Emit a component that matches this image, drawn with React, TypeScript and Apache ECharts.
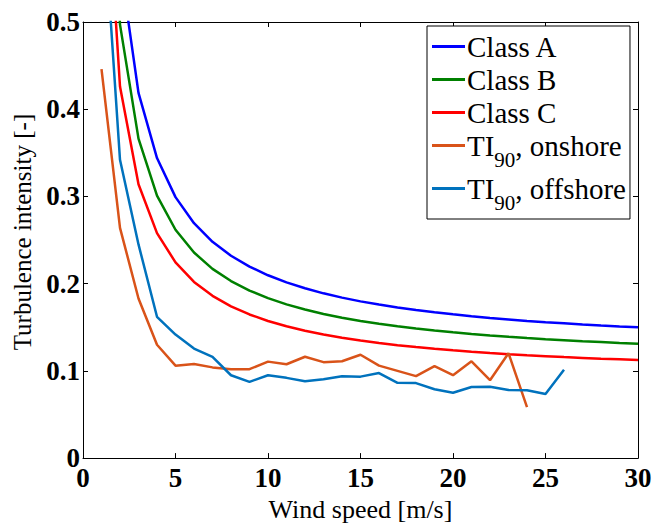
import React, { useEffect, useRef } from "react";
import * as echarts from "echarts";

const windSpeed = [1, 2, 3, 4, 5, 6, 7, 8, 9, 10, 11, 12, 13, 14, 15, 16, 17, 18, 19, 20, 21, 22, 23, 24, 25, 26, 27, 28, 29, 30];
const classA = [1.016, 0.568, 0.4187, 0.344, 0.2992, 0.2693, 0.248, 0.232, 0.2196, 0.2096, 0.2015, 0.1947, 0.1889, 0.184, 0.1797, 0.176, 0.1727, 0.1698, 0.1672, 0.1648, 0.1627, 0.1607, 0.159, 0.1573, 0.1558, 0.1545, 0.1532, 0.152, 0.1509, 0.1499];
const classB = [0.889, 0.497, 0.3663, 0.301, 0.2618, 0.2357, 0.217, 0.203, 0.1921, 0.1834, 0.1763, 0.1703, 0.1653, 0.161, 0.1573, 0.154, 0.1511, 0.1486, 0.1463, 0.1442, 0.1423, 0.1406, 0.1391, 0.1377, 0.1364, 0.1352, 0.134, 0.133, 0.132, 0.1311];
const classC = [0.762, 0.426, 0.314, 0.258, 0.2244, 0.202, 0.186, 0.174, 0.1647, 0.1572, 0.1511, 0.146, 0.1417, 0.138, 0.1348, 0.132, 0.1295, 0.1273, 0.1254, 0.1236, 0.122, 0.1205, 0.1192, 0.118, 0.1169, 0.1158, 0.1149, 0.114, 0.1132, 0.1124];
const onshoreSpeed = [1, 2, 3, 4, 5, 6, 7, 8, 9, 10, 11, 12, 13, 14, 15, 16, 17, 18, 19, 20, 21, 22, 23, 24];
const onshoreTI = [0.446, 0.264, 0.183, 0.13, 0.106, 0.108, 0.104, 0.102, 0.102, 0.1106, 0.1076, 0.1162, 0.11, 0.111, 0.1185, 0.106, 0.1, 0.094, 0.1054, 0.095, 0.111, 0.0893, 0.1203, 0.0585];
const offshoreSpeed = [1, 2, 3, 4, 5, 6, 7, 8, 9, 10, 11, 12, 13, 14, 15, 16, 17, 18, 19, 20, 21, 22, 23, 24, 25, 26];
const offshoreTI = [0.66, 0.342, 0.245, 0.162, 0.1416, 0.1256, 0.116, 0.095, 0.0874, 0.095, 0.092, 0.0882, 0.0905, 0.0938, 0.0934, 0.0975, 0.0863, 0.086, 0.079, 0.075, 0.0815, 0.0818, 0.078, 0.0777, 0.0736, 0.1013];

const seriesNames = ["Class A", "Class B", "Class C", "TI90, onshore", "TI90, offshore"];
const seriesColors = ["#0000FF", "#008000", "#FF0000", "#D95319", "#0072BD"];

const FONT = "'Liberation Serif', 'Times New Roman', serif";

function pairs(xs: number[], ys: number[]) {
  return xs.map((x, i) => [x, ys[i]]);
}

export default function App() {
  const ref = useRef<HTMLDivElement>(null);
  useEffect(() => {
    if (!ref.current) return;
    const chart = echarts.init(ref.current, null, { renderer: "svg" });
    const datasets = [
      pairs(windSpeed, classA),
      pairs(windSpeed, classB),
      pairs(windSpeed, classC),
      pairs(onshoreSpeed, onshoreTI),
      pairs(offshoreSpeed, offshoreTI),
    ];
    const axisCommon = {
      axisLine: { show: true, onZero: false, lineStyle: { color: "#000", width: 1 } },
      axisTick: { show: true, inside: true, length: 5, lineStyle: { color: "#000", width: 1 } },
      splitLine: { show: false },
    };
    chart.setOption({
      animation: false,
      backgroundColor: "#fff",
      grid: { left: 83, right: 29, top: 22, bottom: 59 },
      xAxis: [
        {
          type: "value",
          min: 0,
          max: 30,
          interval: 5,
          position: "bottom",
          name: "Wind speed [m/s]",
          nameLocation: "middle",
          nameGap: 30,
          nameTextStyle: { fontFamily: FONT, fontSize: 26, color: "#000" },
          axisLabel: { fontFamily: FONT, fontSize: 27, fontWeight: "bold", color: "#000", margin: 6 },
          ...axisCommon,
        },
        {
          type: "value",
          min: 0,
          max: 30,
          interval: 5,
          position: "top",
          axisLabel: { show: false },
          ...axisCommon,
        },
      ],
      yAxis: [
        {
          type: "value",
          min: 0,
          max: 0.5,
          interval: 0.1,
          position: "left",
          name: "Turbulence intensity [-]",
          nameLocation: "middle",
          nameGap: 44,
          nameTextStyle: { fontFamily: FONT, fontSize: 25, color: "#000", padding: [0, 0, 0, 16] },
          axisLabel: { fontFamily: FONT, fontSize: 27, fontWeight: "bold", color: "#000", margin: 3 },
          ...axisCommon,
        },
        {
          type: "value",
          min: 0,
          max: 0.5,
          interval: 0.1,
          position: "right",
          axisLabel: { show: false },
          ...axisCommon,
        },
      ],
      legend: {
        orient: "vertical",
        left: 427,
        top: 26,
        padding: [6, 4, 6, 5],
        itemGap: 4,
        itemWidth: 33,
        itemHeight: 3,
        icon: "rect",
        backgroundColor: "#fff",
        borderColor: "#000",
        borderWidth: 1,
        borderRadius: 0,
        data: seriesNames,
        formatter: (name: string) => {
          if (name.startsWith("TI90")) {
            return "TI{sub|90}" + name.slice(4);
          }
          return name;
        },
        textStyle: {
          fontFamily: FONT,
          fontSize: 29,
          color: "#000",
          padding: [0, 0, 0, -3],
          rich: {
            sub: { fontFamily: FONT, fontSize: 21, color: "#000", padding: [28, 0, 0, 0] },
          },
        },
      },
      series: datasets.map((d, i) => ({
        type: "line",
        name: seriesNames[i],
        data: d,
        xAxisIndex: 0,
        yAxisIndex: 0,
        symbol: "none",
        showSymbol: false,
        clip: true,
        lineStyle: { color: seriesColors[i], width: 2.5 },
        itemStyle: { color: seriesColors[i] },
        emphasis: { disabled: true },
      })),
    });
    return () => chart.dispose();
  }, []);
  return (
    <div
      ref={ref}
      style={{ position: "fixed", left: 0, top: 0, width: 667, height: 527 }}
    />
  );
}
